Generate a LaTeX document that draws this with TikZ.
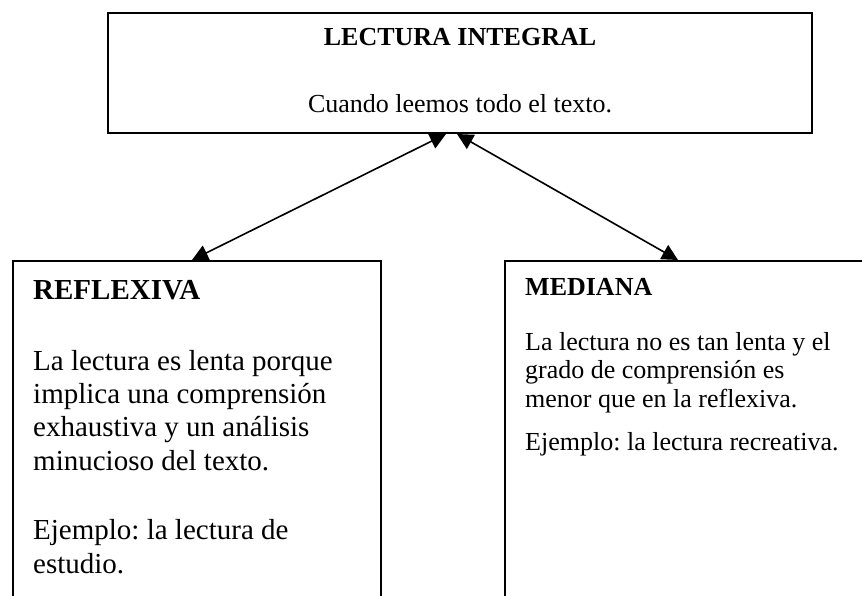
\documentclass[tikz,border=0pt]{standalone}
\usepackage{fontspec}
\setmainfont{Liberation Serif}
\usetikzlibrary{arrows.meta}
\begin{document}
\frenchspacing
\begin{tikzpicture}[x=1pt,y=-1pt,
  box/.style={draw, line width=2pt, fill=white, inner sep=0pt},
  conn/.style={line width=1.6pt, {Triangle[length=16pt,width=16pt]}-{Triangle[length=16pt,width=16pt]}},
  ln/.style={inner sep=0pt, anchor=base west},
  cn/.style={inner sep=0pt, anchor=base},
  big/.style={font=\fontsize{29}{33}\selectfont},
  mid/.style={font=\fontsize{26}{30}\selectfont}]
\clip (0,0) rectangle (862,596);
\fill[white] (0,0) rectangle (862,596);
% boxes
\node[box, minimum width=704pt, minimum height=120pt] (top) at (460,73) {};
\node[box, minimum width=368pt, minimum height=380pt] (left) at (197,451) {};
\node[box, minimum width=400pt, minimum height=380pt] (right) at (705,451) {};
% connectors
\draw[conn] ([xshift=-14pt]top.south) -- ([xshift=-5pt]left.north);
\draw[conn] ([xshift=-3pt]top.south) -- ([xshift=-27pt]right.north);
% top box text
\node[cn, mid] (t1) at (460,46) {\bfseries LECTURA INTEGRAL};
\node[cn, mid] (t2) at (460,113) {Cuando leemos todo el texto.};
% left box text
\node[ln, big] (l0) at (33,299) {\bfseries REFLEXIVA};
\node[ln, big] (l1) at (33,370) {La lectura es lenta porque};
\node[ln, big] (l2) at (33,403) {implica una comprensión};
\node[ln, big] (l3) at (33,436) {exhaustiva y un análisis};
\node[ln, big] (l4) at (33,470) {minucioso del texto.};
\node[ln, big] (l5) at (33,539) {Ejemplo: la lectura de};
\node[ln, big] (l6) at (33,573) {estudio.};
% right box text
\node[ln, mid] (r0) at (525,295) {\bfseries MEDIANA};
\node[ln, mid] (r1) at (525,350) {La lectura no es tan lenta y el};
\node[ln, mid] (r2) at (525,378) {grado de comprensión es};
\node[ln, mid] (r3) at (525,407) {menor que en la reflexiva.};
\node[ln, mid] (r4) at (525,450) {Ejemplo: la lectura recreativa.};
\end{tikzpicture}
\end{document}
